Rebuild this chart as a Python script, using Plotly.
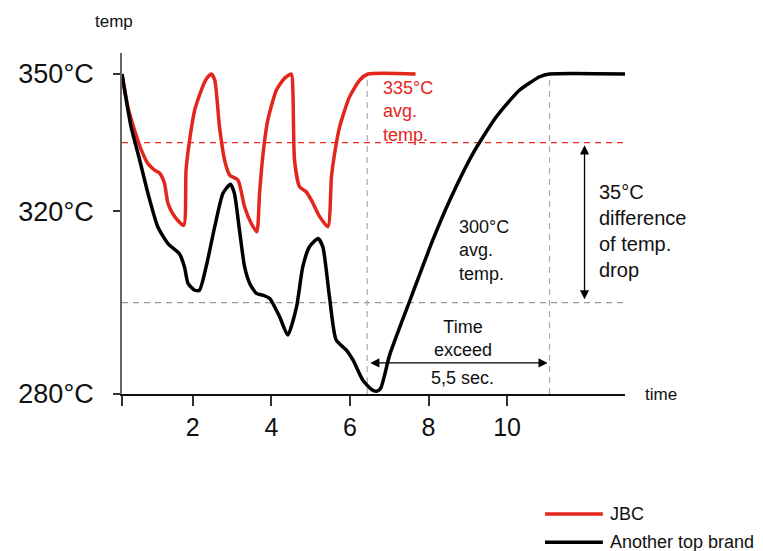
import plotly.graph_objects as go

# ---- data (time in s, temperature in °C) ----
jbc_time = [0.2, 0.35, 0.52, 0.69, 0.86, 1.03, 1.16, 1.28, 1.37, 1.54, 1.77, 1.83, 1.92, 2.05,
            2.22, 2.33, 2.47, 2.56, 2.68, 2.81, 2.94, 3.15, 3.32, 3.49, 3.63, 3.70, 3.79, 3.91,
            4.13, 4.34, 4.51, 4.55, 4.59, 4.72, 4.89, 5.02, 5.23, 5.44, 5.53, 5.61, 5.74, 5.99,
            6.25, 6.46, 7.67]
jbc_temp = [350, 342.8, 337.7, 333.4, 330.4, 329.0, 328.3, 326.1, 321.7, 318.8, 316.9, 329.0, 335.5, 342.1,
            346.5, 348.7, 350, 348.7, 338.5, 331.2, 327.9, 326.8, 320.9, 317.3, 315.5, 323.9, 332.6, 339.9,
            346.5, 349.1, 350, 345.8, 331.2, 325.3, 324.2, 322.4, 318.8, 316.6, 327.5, 332.6, 338.5, 345.0,
            348.7, 350, 350]

other_time = [0.2, 0.43, 0.65, 0.86, 1.11, 1.37, 1.66, 1.79, 1.88, 2.05, 2.17, 2.34, 2.56, 2.77,
              2.96, 3.06, 3.19, 3.32, 3.45, 3.62, 3.79, 3.96, 4.21, 4.42, 4.64, 4.80, 4.97, 5.19,
              5.31, 5.48, 5.65, 5.91, 6.08, 6.33, 6.55, 6.67, 6.78, 7.01, 7.55, 8.11, 8.54, 9.13,
              9.73, 10.32, 10.83, 11.08, 13.0]
other_temp = [350, 338.5, 331.2, 323.9, 316.6, 312.9, 310.7, 307.8, 304.2, 302.7, 302.7, 307.8, 316.6, 323.9,
              325.9, 323.9, 315.8, 307.8, 304.2, 302.0, 301.6, 300.9, 296.9, 292.9, 299.0, 307.8, 312.2, 314.0,
              312.2, 301.2, 291.8, 289.6, 287.4, 283.0, 281.0, 280.6, 281.2, 288.5, 301.0, 313.7, 322.4, 332.6,
              340.7, 346.5, 349.4, 350, 350]

series_names = ["JBC", "Another top brand"]

y_ticks = [280, 320, 350]
y_tick_text = ["280°C", "320°C", "350°C"]
x_ticks = [0.2, 2, 4, 6, 8, 10]
x_tick_text = ["", "2", "4", "6", "8", "10"]

jbc_avg = 335
other_avg = 300
exceed_start = 6.44
exceed_end = 11.08

RED = "#e3261c"
INK = "#111111"
FONT = "Liberation Sans, Arial, Helvetica, sans-serif"
colors = [RED, "black"]

fig = go.Figure()
for name, xs, ys, col in zip(series_names, [jbc_time, other_time], [jbc_temp, other_temp], colors):
    fig.add_trace(go.Scatter(x=xs, y=ys, mode="lines", name=name, showlegend=False,
                             line=dict(color=col, width=3.5, shape="spline", smoothing=0.6)))

# reference lines
fig.add_shape(type="line", x0=0.2, x1=13, y0=jbc_avg, y1=jbc_avg, xref="x", yref="y",
              line=dict(color=RED, width=1.2, dash="6px,5px"), layer="below")
fig.add_shape(type="line", x0=0.2, x1=13, y0=other_avg, y1=other_avg, xref="x", yref="y",
              line=dict(color="#999999", width=1.2, dash="6px,5px"), layer="below")
for xv in (exceed_start, exceed_end):
    fig.add_shape(type="line", x0=xv, x1=xv, y0=280, y1=350, xref="x", yref="y",
                  line=dict(color="#aaaaaa", width=1.2, dash="6px,5px"), layer="below")

# arrows
fig.add_annotation(x=11.97, y=jbc_avg - 0.6, ax=11.97, ay=other_avg + 0.4, xref="x", yref="y",
                   axref="x", ayref="y", text="", showarrow=True, arrowhead=2, arrowside="end+start",
                   arrowsize=1.4, arrowwidth=1.3, arrowcolor="black")
fig.add_annotation(x=exceed_end - 0.05, y=286.8, ax=exceed_start + 0.04, ay=286.8, xref="x", yref="y",
                   axref="x", ayref="y", text="", showarrow=True, arrowhead=2, arrowside="end+start",
                   arrowsize=1.4, arrowwidth=1.3, arrowcolor="black")

# text labels
fig.add_annotation(x=6.78, y=341.9, text="335°C<br>avg.<br>temp.", showarrow=False, xanchor="left",
                   yanchor="middle", align="left", font=dict(size=18, color=RED, family=FONT))
fig.add_annotation(x=8.72, y=311.5, text="300°C<br>avg.<br>temp.", showarrow=False, xanchor="left",
                   yanchor="middle", align="left", font=dict(size=18, color=INK, family=FONT))
fig.add_annotation(x=12.28, y=315.6, text="35°C<br>difference<br>of temp.<br>drop", showarrow=False,
                   xanchor="left", yanchor="middle", align="left", font=dict(size=20, color=INK, family=FONT))
fig.add_annotation(x=8.87, y=292.2, text="Time<br>exceed", showarrow=False, xanchor="center",
                   yanchor="middle", align="center", font=dict(size=18, color=INK, family=FONT))
fig.add_annotation(x=8.87, y=283.4, text="5,5 sec.", showarrow=False, xanchor="center",
                   yanchor="middle", font=dict(size=18, color=INK, family=FONT))
fig.add_annotation(x=1.035, y=280, xref="paper", yref="y", text="time", showarrow=False,
                   xanchor="left", yanchor="middle", font=dict(size=17, color=INK, family=FONT))
fig.add_annotation(x=-0.0165, y=1.091, xref="paper", yref="paper", text="temp", showarrow=False,
                   xanchor="center", yanchor="middle", font=dict(size=17, color=INK, family=FONT))

# legend (drawn manually below the plot)
legend_rows = [-0.352, -0.435]
for name, col, ly in zip(series_names, colors, legend_rows):
    fig.add_shape(type="line", xref="paper", yref="paper", x0=0.841, x1=0.956, y0=ly, y1=ly,
                  line=dict(color=col, width=3.5))
    fig.add_annotation(x=0.966, y=ly, xref="paper", yref="paper", text=name, showarrow=False,
                       xanchor="left", yanchor="middle", font=dict(size=18, color=INK, family=FONT))

fig.update_layout(
    width=755, height=543,
    margin=dict(l=114, r=138, t=45, b=157),
    paper_bgcolor="white", plot_bgcolor="white",
    font=dict(family=FONT, color=INK),
    showlegend=False,
    xaxis=dict(range=[0.2, 13], showgrid=False, zeroline=False, showline=True, linecolor=INK,
               linewidth=1.8, ticks="outside", ticklen=10, tickwidth=1.5, tickcolor="#333333",
               tickvals=x_ticks, ticktext=x_tick_text, ticklabelstandoff=0, automargin=False,
               tickfont=dict(size=25, family=FONT, color=INK)),
    yaxis=dict(range=[280, 354.6], showgrid=False, zeroline=False, showline=True, linecolor="#666666",
               linewidth=1.8, ticks="outside", ticklen=7, tickwidth=1.5, tickcolor="#333333",
               tickvals=y_ticks, ticktext=y_tick_text, ticklabelstandoff=14, automargin=False,
               tickfont=dict(size=27, family=FONT, color=INK)),
)

fig.write_html("out.html")
